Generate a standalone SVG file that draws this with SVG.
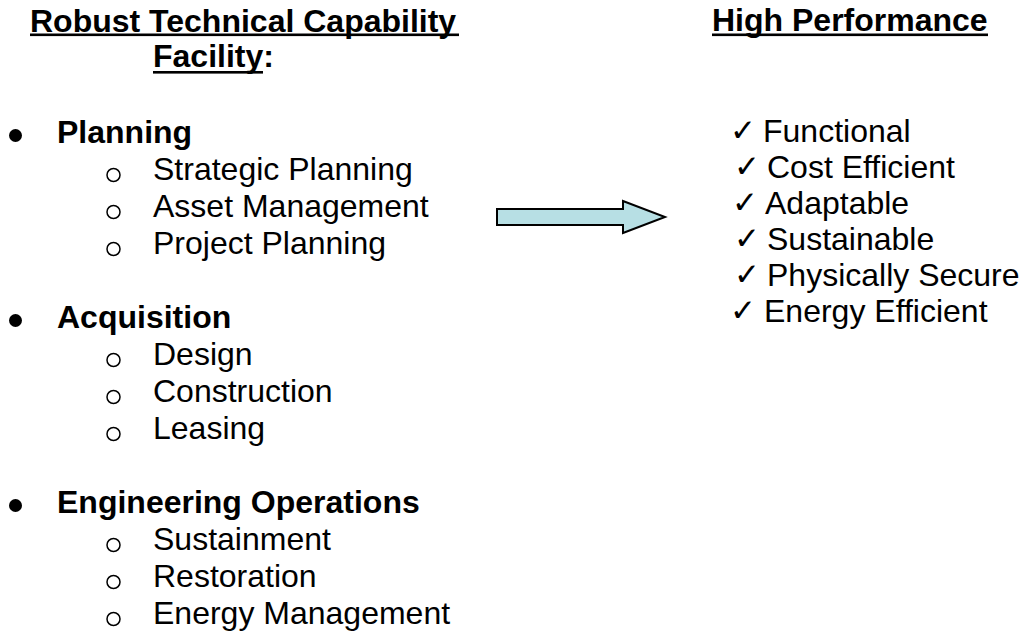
<svg xmlns="http://www.w3.org/2000/svg" width="1021" height="632" viewBox="0 0 1021 632">
<style>
text{font-family:"Liberation Sans",Arial,sans-serif;font-size:32px;fill:#000}
.b{font-weight:bold}
.ck{font-family:"DejaVu Sans",sans-serif;font-size:31px}
.ul{fill:#000}
.dot{fill:#000}
.ring{fill:none;stroke:#000;stroke-width:1.5}
.arrow{fill:#b7dfe4;stroke:#000;stroke-width:2;stroke-linejoin:miter}
</style>
<rect width="1021" height="632" fill="#fff"/>
<g id="heading-left">
<text class="b" x="30" y="32">Robust Technical Capability</text>
<rect class="ul" x="30" y="33.5" width="429" height="2.6"/>
<text class="b" x="153" y="67">Facility:</text>
<rect class="ul" x="153" y="71" width="110" height="2.6"/>
</g>
<g id="heading-right">
<text class="b" x="712" y="31">High Performance</text>
<rect class="ul" x="712" y="33.5" width="276" height="2.6"/>
</g>
<g id="planning">
<circle class="dot" cx="15.5" cy="135.5" r="6.5"/>
<text class="b" x="57" y="143">Planning</text>
<circle class="ring" cx="113.5" cy="175" r="6.5"/>
<text x="153" y="180">Strategic Planning</text>
<circle class="ring" cx="113.5" cy="212" r="6.5"/>
<text x="153" y="217">Asset Management</text>
<circle class="ring" cx="113.5" cy="249" r="6.5"/>
<text x="153" y="254">Project Planning</text>
</g>
<g id="acquisition">
<circle class="dot" cx="15.5" cy="320.5" r="6.5"/>
<text class="b" x="57" y="328">Acquisition</text>
<circle class="ring" cx="113.5" cy="360" r="6.5"/>
<text x="153" y="365">Design</text>
<circle class="ring" cx="113.5" cy="397" r="6.5"/>
<text x="153" y="402">Construction</text>
<circle class="ring" cx="113.5" cy="434" r="6.5"/>
<text x="153" y="439">Leasing</text>
</g>
<g id="engineering">
<circle class="dot" cx="15.5" cy="505.5" r="6.5"/>
<text class="b" x="57" y="513">Engineering Operations</text>
<circle class="ring" cx="113.5" cy="545" r="6.5"/>
<text x="153" y="550">Sustainment</text>
<circle class="ring" cx="113.5" cy="582" r="6.5"/>
<text x="153" y="587">Restoration</text>
<circle class="ring" cx="113.5" cy="619" r="6.5"/>
<text x="153" y="624">Energy Management</text>
</g>
<g id="connectors">
<polygon class="arrow" points="497,209 623,209 623,201 665,217 623,233 623,225 497,225"/>
</g>
<g id="performance">
<text class="ck" x="730" y="141">✓</text><text x="763" y="142">Functional</text>
<text class="ck" x="734" y="177">✓</text><text x="767" y="178">Cost Efficient</text>
<text class="ck" x="732" y="213">✓</text><text x="765" y="214">Adaptable</text>
<text class="ck" x="734" y="249">✓</text><text x="767" y="250">Sustainable</text>
<text class="ck" x="734" y="285">✓</text><text x="767" y="286">Physically Secure</text>
<text class="ck" x="730" y="321">✓</text><text x="764" y="322">Energy Efficient</text>
</g>
</svg>
